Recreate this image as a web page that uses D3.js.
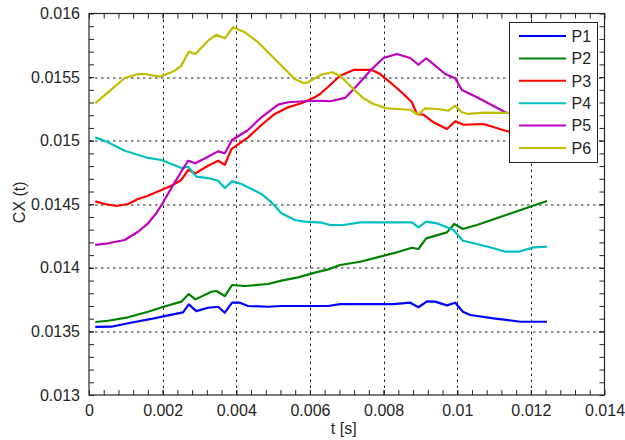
<!DOCTYPE html>
<html>
<head>
<meta charset="utf-8">
<script src="https://cdn.jsdelivr.net/npm/d3@7"></script>
<style>
  html, body { margin: 0; padding: 0; background: #fff; }
  svg { display: block; font-family: "Liberation Sans", Arial, sans-serif; }
</style>
</head>
<body>
<svg id="chart" width="625" height="440"></svg>
<script>
// Pressure-coefficient traces CX(t) at six probes P1..P6
const seriesNames = ["P1", "P2", "P3", "P4", "P5", "P6"];
const seriesColors = ["#0000ff", "#008000", "#ff0000", "#00bfbf", "#bf00bf", "#bfbf00"];

const tP1 = [0.000171, 0.000606, 0.001060, 0.001693, 0.001984, 0.002554, 0.002709, 0.002916, 0.003234, 0.003505, 0.003688, 0.003886, 0.004095, 0.004321, 0.004864, 0.005226, 0.006495, 0.006821, 0.008269, 0.008723, 0.008948, 0.009177, 0.009402, 0.009720, 0.009946, 0.010155, 0.010353, 0.010986, 0.011712, 0.012438];
const vP1 = [0.013535, 0.013537, 0.013564, 0.013598, 0.013616, 0.013650, 0.013713, 0.013660, 0.013686, 0.013694, 0.013647, 0.013726, 0.013726, 0.013700, 0.013694, 0.013700, 0.013700, 0.013715, 0.013715, 0.013726, 0.013690, 0.013737, 0.013734, 0.013705, 0.013726, 0.013655, 0.013629, 0.013603, 0.013576, 0.013576];

const tP2 = [0.000171, 0.000516, 0.001060, 0.001603, 0.001984, 0.002508, 0.002709, 0.002889, 0.003323, 0.003459, 0.003688, 0.003886, 0.004231, 0.004864, 0.005226, 0.005679, 0.006133, 0.006495, 0.006821, 0.007364, 0.007908, 0.008361, 0.008769, 0.008948, 0.009158, 0.009720, 0.009918, 0.010155, 0.010535, 0.012438];
const vP2 = [0.013574, 0.013584, 0.013611, 0.013655, 0.013690, 0.013734, 0.013794, 0.013752, 0.013812, 0.013818, 0.013778, 0.013865, 0.013857, 0.013873, 0.013899, 0.013925, 0.013962, 0.013988, 0.014022, 0.014048, 0.014088, 0.014122, 0.014158, 0.014148, 0.014232, 0.014279, 0.014345, 0.014305, 0.014337, 0.014526];

const tP3 = [0.000171, 0.000427, 0.000742, 0.001060, 0.001332, 0.001603, 0.001965, 0.002236, 0.002508, 0.002690, 0.002889, 0.003234, 0.003505, 0.003688, 0.003867, 0.004321, 0.004682, 0.005046, 0.005408, 0.005769, 0.006133, 0.006277, 0.006495, 0.006821, 0.007182, 0.007682, 0.007908, 0.008179, 0.008541, 0.008769, 0.008905, 0.009084, 0.009356, 0.009720, 0.009946, 0.010171, 0.010715, 0.011351, 0.012438];
const vP3 = [0.014523, 0.014502, 0.014486, 0.014502, 0.014541, 0.014567, 0.014612, 0.014646, 0.014691, 0.014769, 0.014743, 0.014803, 0.014842, 0.014811, 0.014934, 0.015026, 0.015123, 0.015210, 0.015262, 0.015294, 0.015341, 0.015367, 0.015424, 0.015511, 0.015556, 0.015556, 0.015524, 0.015459, 0.015367, 0.015302, 0.015210, 0.015204, 0.015144, 0.015092, 0.015152, 0.015125, 0.015131, 0.015074, 0.015052];

const tP4 = [0.000171, 0.000516, 0.000970, 0.001603, 0.001965, 0.002236, 0.002508, 0.002690, 0.002916, 0.003234, 0.003505, 0.003688, 0.003886, 0.004139, 0.004682, 0.004954, 0.005226, 0.005590, 0.005861, 0.006312, 0.006549, 0.006910, 0.007364, 0.008769, 0.008948, 0.009158, 0.009448, 0.009899, 0.010155, 0.010535, 0.010986, 0.011304, 0.011666, 0.012073, 0.012438];
const vP4 = [0.015026, 0.014987, 0.014921, 0.014864, 0.014848, 0.014816, 0.014785, 0.014795, 0.014717, 0.014706, 0.014685, 0.014628, 0.014680, 0.014659, 0.014581, 0.014515, 0.014429, 0.014376, 0.014363, 0.014355, 0.014337, 0.014337, 0.014358, 0.014358, 0.014319, 0.014363, 0.014350, 0.014297, 0.014213, 0.014187, 0.014154, 0.014127, 0.014127, 0.014161, 0.014166];

const tP5 = [0.000171, 0.000516, 0.000970, 0.001332, 0.001603, 0.001829, 0.002011, 0.002329, 0.002690, 0.002889, 0.003234, 0.003505, 0.003688, 0.003886, 0.004321, 0.004682, 0.005136, 0.005408, 0.005861, 0.006312, 0.006549, 0.006957, 0.007274, 0.007636, 0.007997, 0.008361, 0.008723, 0.008948, 0.009158, 0.009402, 0.009674, 0.009946, 0.010128, 0.010535, 0.011304, 0.012438];
const vP5 = [0.014180, 0.014193, 0.014219, 0.014284, 0.014350, 0.014429, 0.014514, 0.014673, 0.014842, 0.014822, 0.014874, 0.014916, 0.014901, 0.015005, 0.015084, 0.015184, 0.015283, 0.015302, 0.015310, 0.015314, 0.015310, 0.015336, 0.015432, 0.015550, 0.015650, 0.015682, 0.015650, 0.015597, 0.015648, 0.015590, 0.015524, 0.015490, 0.015398, 0.015341, 0.015223, 0.015131];

const tP6 = [0.000171, 0.000516, 0.000970, 0.001332, 0.001514, 0.001921, 0.002057, 0.002329, 0.002508, 0.002709, 0.002889, 0.003234, 0.003459, 0.003688, 0.003913, 0.004231, 0.004592, 0.005046, 0.005590, 0.005815, 0.005951, 0.006312, 0.006595, 0.006821, 0.007182, 0.007454, 0.007726, 0.008090, 0.008723, 0.008932, 0.009130, 0.009448, 0.009764, 0.009946, 0.010128, 0.010307, 0.010715, 0.011351, 0.012438];
const vP6 = [0.015294, 0.015380, 0.015493, 0.015524, 0.015524, 0.015503, 0.015516, 0.015550, 0.015590, 0.015700, 0.015682, 0.015786, 0.015833, 0.015805, 0.015892, 0.015852, 0.015774, 0.015642, 0.015485, 0.015453, 0.015459, 0.015519, 0.015538, 0.015511, 0.015406, 0.015333, 0.015288, 0.015254, 0.015243, 0.015204, 0.015254, 0.015249, 0.015236, 0.015275, 0.015223, 0.015210, 0.015220, 0.015218, 0.015218];

const xTicks = [0, 0.002, 0.004, 0.006, 0.008, 0.01, 0.012, 0.014];
const yTicks = [0.013, 0.0135, 0.014, 0.0145, 0.015, 0.0155, 0.016];
const xLabel = "t [s]";
const yLabel = "CX (t)";

const seriesT = [tP1, tP2, tP3, tP4, tP5, tP6];
const seriesV = [vP1, vP2, vP3, vP4, vP5, vP6];

const W = 625, H = 440;
const margin = { left: 89, top: 13.5, right: 20.5, bottom: 45 };
const iw = W - margin.left - margin.right;
const ih = H - margin.top - margin.bottom;
const axisColor = "#262626";
const fontSize = "16px";

const svg = d3.select("#chart");
const g = svg.append("g").attr("transform", `translate(${margin.left},${margin.top})`);

const x = d3.scaleLinear().domain([0, 0.014]).range([0, iw]);
const y = d3.scaleLinear().domain([0.013, 0.016]).range([ih, 0]);

// dotted grid at the major ticks
g.append("g").selectAll("line").data(xTicks.slice(1, -1)).join("line")
  .attr("x1", d => Math.round(x(d)) + 0.5).attr("x2", d => Math.round(x(d)) + 0.5)
  .attr("y1", 0).attr("y2", ih)
  .attr("stroke", "#222").attr("stroke-width", 1).attr("stroke-dasharray", "2.5,3.5");
g.append("g").selectAll("line").data(yTicks.slice(1, -1)).join("line")
  .attr("y1", d => Math.round(y(d)) + 0.5).attr("y2", d => Math.round(y(d)) + 0.5)
  .attr("x1", 0).attr("x2", iw)
  .attr("stroke", "#222").attr("stroke-width", 1).attr("stroke-dasharray", "2.5,3.5");

// data lines
svg.append("defs").append("clipPath").attr("id", "plotClip")
  .append("rect").attr("width", iw).attr("height", ih);
const lineGen = d3.line().x(d => x(d[0])).y(d => y(d[1]));
const lines = g.append("g").attr("clip-path", "url(#plotClip)");
seriesNames.forEach((name, i) => {
  const pts = seriesT[i].map((t, k) => [t, seriesV[i][k]]);
  lines.append("path").datum(pts)
    .attr("d", lineGen)
    .attr("fill", "none")
    .attr("stroke", seriesColors[i])
    .attr("stroke-width", 2.2)
    .attr("stroke-linejoin", "round");
});

// inward ticks on all four sides, major plus minor
const xMinor = d3.range(0, 0.01401, 0.0004).filter(v => v > 0 && v < 0.014);
const yMinor = d3.range(0.013, 0.01601, 0.0001).filter(v => v > 0.01301 && v < 0.01599);
const tickLen = 5;

const axB = d3.axisBottom(x).tickValues(xTicks).tickSize(-tickLen).tickPadding(10).tickFormat(d3.format("~g"));
const axT = d3.axisTop(x).tickValues(xTicks).tickSize(-tickLen).tickFormat("");
const axL = d3.axisLeft(y).tickValues(yTicks).tickSize(-tickLen).tickPadding(9).tickFormat(d3.format("~g"));
const axR = d3.axisRight(y).tickValues(yTicks).tickSize(-tickLen).tickFormat("");
const mB = d3.axisBottom(x).tickValues(xMinor).tickSize(-tickLen).tickFormat("");
const mT = d3.axisTop(x).tickValues(xMinor).tickSize(-tickLen).tickFormat("");
const mL = d3.axisLeft(y).tickValues(yMinor).tickSize(-tickLen).tickFormat("");
const mR = d3.axisRight(y).tickValues(yMinor).tickSize(-tickLen).tickFormat("");

function place(axis, tx, ty) {
  const a = g.append("g").attr("transform", `translate(${tx},${ty})`).call(axis);
  a.select(".domain").remove();
  a.selectAll("line").attr("stroke", axisColor);
  a.selectAll("text").attr("fill", axisColor).style("font-size", fontSize)
    .style("font-family", '"Liberation Sans", Arial, sans-serif');
  return a;
}
place(mB, 0, ih); place(mT, 0, 0); place(mL, 0, 0); place(mR, iw, 0);
place(axB, 0, ih); place(axT, 0, 0); place(axL, 0, 0); place(axR, iw, 0);

// plot box
g.append("rect").attr("x", 0).attr("y", 0).attr("width", iw).attr("height", ih)
  .attr("fill", "none").attr("stroke", axisColor).attr("stroke-width", 1.2);

// axis titles
svg.append("text").attr("x", margin.left + iw / 2 - 3).attr("y", 434)
  .attr("text-anchor", "middle").attr("fill", axisColor).style("font-size", fontSize).text(xLabel);
svg.append("text").attr("transform", `translate(25,${margin.top + ih / 2 - 2}) rotate(-90)`)
  .attr("text-anchor", "middle").attr("fill", axisColor).style("font-size", fontSize).text(yLabel);

// legend
const lg = svg.append("g").attr("transform", "translate(509.5,22.5)");
lg.append("rect").attr("width", 88).attr("height", 140)
  .attr("fill", "#fff").attr("stroke", axisColor).attr("stroke-width", 1);
seriesNames.forEach((name, i) => {
  const ry = 13.5 + i * 22.4;
  lg.append("line").attr("x1", 9.5).attr("x2", 56.5).attr("y1", ry).attr("y2", ry)
    .attr("stroke", seriesColors[i]).attr("stroke-width", 2);
  lg.append("text").attr("x", 62).attr("y", ry).attr("dy", "0.36em")
    .attr("fill", axisColor).style("font-size", fontSize).text(name);
});
</script>
</body>
</html>
